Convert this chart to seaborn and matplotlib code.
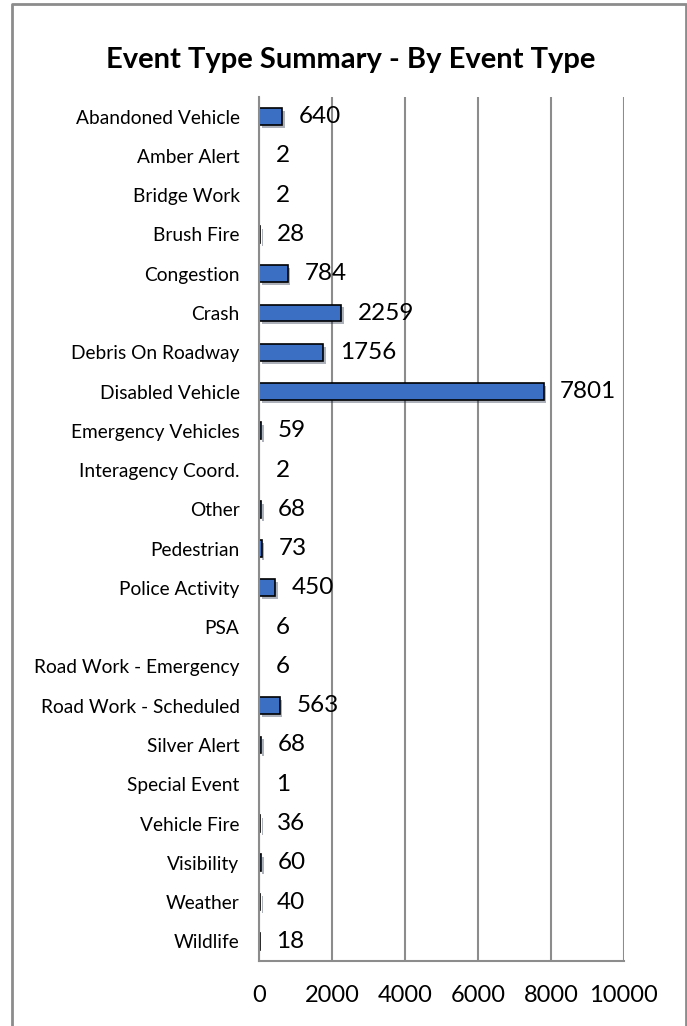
import numpy as np
import pandas as pd
import matplotlib
matplotlib.use('Agg')
import matplotlib.pyplot as plt
import matplotlib.patheffects as pe
import seaborn as sns

# data
events = ['Abandoned Vehicle', 'Amber Alert', 'Bridge Work', 'Brush Fire', 'Congestion',
          'Crash', 'Debris On Roadway', 'Disabled Vehicle', 'Emergency Vehicles',
          'Interagency Coord.', 'Other', 'Pedestrian', 'Police Activity', 'PSA',
          'Road Work - Emergency', 'Road Work - Scheduled', 'Silver Alert',
          'Special Event', 'Vehicle Fire', 'Visibility', 'Weather', 'Wildlife']
counts = [640, 2, 2, 28, 784, 2259, 1756, 7801, 59, 2, 68, 73, 450, 6, 6, 563,
          68, 1, 36, 60, 40, 18]
xticks = [0, 2000, 4000, 6000, 8000, 10000]

df = pd.DataFrame({'event': events, 'count': counts})

sns.set_style('white')
plt.rcParams['font.family'] = ['Lato', 'DejaVu Sans']
plt.rcParams['text.color'] = 'black'
plt.rcParams['xtick.color'] = 'black'
plt.rcParams['ytick.color'] = 'black'

fig = plt.figure(figsize=(6.87, 10.26), dpi=100)
ax = fig.add_axes([0.377, 0.0634, 0.531, 0.842])

sns.barplot(data=df, x='count', y='event', orient='h', color='#3a6fc4',
            width=0.43, edgecolor='black', linewidth=1.2, saturation=1, ax=ax)
for p in ax.patches:
    p.set_path_effects([pe.SimplePatchShadow(offset=(2, -2), alpha=0.35),
                        pe.Normal()])

for i, v in enumerate(counts):
    ax.annotate(str(v), (v, i), xytext=(12, 0), textcoords='offset points',
                va='center', ha='left', fontsize=17.5)

ax.set_xlim(0, 10000)
ax.set_ylim(21.5, -0.5)
ax.set_xticks(xticks)
ax.set_xticklabels([str(t) for t in xticks], fontsize=17)
ax.tick_params(axis='x', length=0, pad=17, colors='black')
ax.tick_params(axis='y', length=0, pad=14, labelsize=13.8, colors='black')
ax.set_xlabel('')
ax.set_ylabel('')
ax.grid(axis='x', color='#8c8c8c', linewidth=1.5)
ax.set_axisbelow(True)
for s in ['top', 'right']:
    ax.spines[s].set_visible(False)
for s in ['left', 'bottom']:
    ax.spines[s].set_color('#8c8c8c')
    ax.spines[s].set_linewidth(1.5)

fig.text(0.510, 0.942, 'Event Type Summary - By Event Type', ha='center', va='center',
         fontsize=21, fontweight='bold', color='black')

# outer frame
fig.add_artist(plt.Line2D([0.018, 0.018, 0.998, 0.998], [0.0, 0.996, 0.996, 0.0],
                          transform=fig.transFigure, color='#8c8c8c', linewidth=2))

plt.savefig('out.png', dpi=100)
